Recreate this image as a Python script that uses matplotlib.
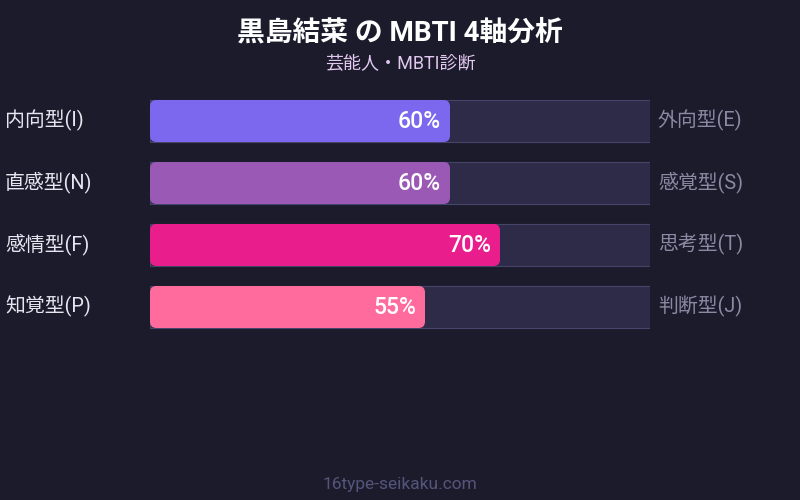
import matplotlib.pyplot as plt
from matplotlib.patches import FancyBboxPatch

plt.rcParams['font.family'] = ['Roboto', 'Noto Sans CJK JP', 'DejaVu Sans']

# データ
left_labels = ["内向型(I)", "直感型(N)", "感情型(F)", "知覚型(P)"]
right_labels = ["外向型(E)", "感覚型(S)", "思考型(T)", "判断型(J)"]
values = [60, 60, 70, 55]
colors = ["#7b68ee", "#9b59b6", "#e91e8c", "#ff6b9d"]

title = "黒島結菜 の MBTI 4軸分析"
subtitle = "芸能人・MBTI診断"
footer = "16type-seikaku.com"

bg = "#1b1b2c"
W, H = 800, 500

fig = plt.figure(figsize=(8, 5), dpi=100)
fig.patch.set_facecolor(bg)

# バー用の軸 (x: 150-650px, y: 90-338px)
ax = fig.add_axes([150 / W, 1 - 338 / H, 500 / W, 248 / H])
ax.set_xlim(0, 100)
ax.set_ylim(3.5, -0.5)
ax.axis("off")

bh = 42 / 62
# 背景トラック
ax.barh(range(len(values)), [100] * len(values), height=bh,
        color="#2d2b48", edgecolor="#45456a", linewidth=0.8)

# 角丸の値バー
asp = (1 / 62) / (1 / 5)
for i, (v, c) in enumerate(zip(values, colors)):
    p = FancyBboxPatch((0, i - bh / 2), v, bh,
                       boxstyle="round,pad=0,rounding_size=1.3",
                       mutation_aspect=asp, facecolor=c, edgecolor="none")
    ax.add_patch(p)
    ax.text(v - 1.8, i, f"{v}%", ha="right", va="center",
            color="white", fontsize=16.5, fontweight="medium")

# 左右のラベル
for i, (l, r) in enumerate(zip(left_labels, right_labels)):
    y = 1 - (120 + 62 * i) / H
    fig.text(5 / W, y, l, ha="left", va="center", color="#e6e6f0", fontsize=14.3)
    fig.text(658 / W, y, r, ha="left", va="center", color="#8a8aa3", fontsize=14.3)

fig.text(0.5, 1 - 33 / H, title, ha="center", va="center",
         color="white", fontsize=20, fontweight="bold")
fig.text(0.5, 1 - 63 / H, subtitle, ha="center", va="center",
         color="#e3c8ef", fontsize=13)
fig.text(0.5, 1 - 484 / H, footer, ha="center", va="center",
         color="#55557a", fontsize=12.5)

fig.savefig("out.png", dpi=100, facecolor=bg)
